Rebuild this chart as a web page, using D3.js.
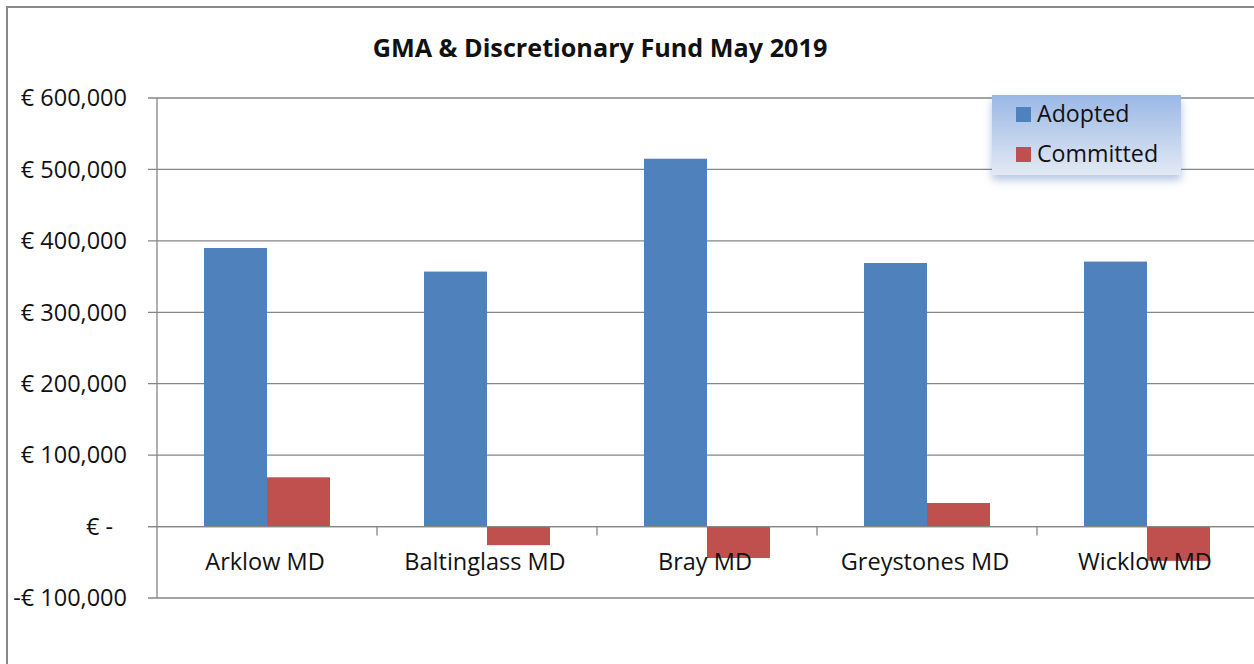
<!DOCTYPE html>
<html lang="en">
<head>
  <meta charset="UTF-8">
  <title>GMA & Discretionary Fund May 2019</title>
  <style>
    body { margin: 0; background: #fff; }
    svg { display: block; font-family: "Open Sans", "Noto Sans", sans-serif; }
    .grid line { stroke: #868686; stroke-width: 1.3; }
  </style>
</head>
<body>
  <div id="chart"></div>
  <script src="https://cdn.jsdelivr.net/npm/d3@7"></script>
  <script>
    var categories = ['Arklow MD', 'Baltinglass MD', 'Bray MD', 'Greystones MD', 'Wicklow MD'];
    var seriesNames = ['Adopted', 'Committed'];
    var adopted = [390000, 357000, 515000, 369000, 371000];
    var committed = [69000, -26000, -44000, 33000, -48000];
    var yTicks = [-100000, 0, 100000, 200000, 300000, 400000, 500000, 600000];
    var colors = ['#4f81bd', '#c0504d'];

    var W = 1254, H = 664;
    var svg = d3.select('#chart').append('svg').attr('width', W).attr('height', H);

    // outer chart border (runs off the right/bottom of the picture)
    svg.append('rect')
      .attr('x', 7).attr('y', 7).attr('width', 1300).attr('height', 700)
      .attr('fill', 'none').attr('stroke', '#8a8a8a').attr('stroke-width', 2);

    var x = d3.scaleBand().domain(categories).range([157, 1257]).paddingInner(0).paddingOuter(0);
    var inner = d3.scaleBand().domain(seriesNames).range([47, 220 - 47]);
    var y = d3.scaleLinear().domain([-100000, 600000]).range([598, 98]);

    // gridlines
    svg.append('g').attr('class', 'grid')
      .selectAll('line').data(yTicks).enter().append('line')
      .attr('x1', 148).attr('x2', W + 10)
      .attr('y1', function (d) { return y(d); })
      .attr('y2', function (d) { return y(d); });

    // y axis line
    svg.append('line')
      .attr('x1', 157).attr('x2', 157).attr('y1', y(600000)).attr('y2', y(-100000))
      .attr('stroke', '#868686').attr('stroke-width', 1.3);

    function euro(d) {
      if (d === 0) return '€ -';
      var s = '€ ' + d3.format(',')(Math.abs(d));
      return d < 0 ? '-' + s : s;
    }

    svg.append('g').selectAll('text').data(yTicks).enter().append('text')
      .attr('x', function (d) { return d === 0 ? 113 : 127; })
      .attr('y', function (d) { return y(d); })
      .attr('dy', '0.35em')
      .attr('text-anchor', 'end')
      .style('font-size', '23.5px')
      .attr('fill', '#111')
      .text(euro);

    // bars
    var data = [];
    categories.forEach(function (c, i) {
      data.push({ cat: c, s: 'Adopted', v: adopted[i] });
      data.push({ cat: c, s: 'Committed', v: committed[i] });
    });
    svg.append('g').selectAll('rect').data(data).enter().append('rect')
      .attr('x', function (d) { return x(d.cat) + inner(d.s); })
      .attr('width', inner.bandwidth())
      .attr('y', function (d) { return y(Math.max(0, d.v)); })
      .attr('height', function (d) { return Math.abs(y(d.v) - y(0)); })
      .attr('fill', function (d) { return colors[seriesNames.indexOf(d.s)]; });

    // zero axis line + category ticks
    svg.append('line')
      .attr('x1', 148).attr('x2', W + 10).attr('y1', y(0)).attr('y2', y(0))
      .attr('stroke', '#868686').attr('stroke-width', 1.3);
    svg.append('g').selectAll('line').data(categories.slice(1)).enter().append('line')
      .attr('x1', function (d) { return x(d); }).attr('x2', function (d) { return x(d); })
      .attr('y1', y(0)).attr('y2', y(0) + 9)
      .attr('stroke', '#868686').attr('stroke-width', 1.3);

    // category labels
    svg.append('g').selectAll('text').data(categories).enter().append('text')
      .attr('x', function (d) { return x(d) + x.bandwidth() / 2 - 2; })
      .attr('y', y(0) + 43)
      .attr('text-anchor', 'middle')
      .style('font-size', '23.5px')
      .attr('fill', '#111')
      .text(function (d) { return d; });

    // title
    svg.append('text')
      .attr('x', 600).attr('y', 57)
      .attr('text-anchor', 'middle')
      .style('font-size', '25.2px').style('font-weight', 'bold')
      .attr('fill', '#111')
      .text('GMA & Discretionary Fund May 2019');

    // legend
    var defs = svg.append('defs');
    var grad = defs.append('linearGradient').attr('id', 'lg').attr('x1', 0).attr('y1', 0).attr('x2', 0).attr('y2', 1);
    grad.append('stop').attr('offset', '0%').attr('stop-color', '#9ab8e6');
    grad.append('stop').attr('offset', '100%').attr('stop-color', '#e3e9f4');
    var sh = defs.append('filter').attr('id', 'sh').attr('x', '-10%').attr('y', '-10%').attr('width', '130%').attr('height', '140%');
    sh.append('feDropShadow').attr('dx', 0).attr('dy', 5).attr('stdDeviation', 4)
      .attr('flood-color', '#5b7fc0').attr('flood-opacity', 0.45);

    var lg = svg.append('g').attr('transform', 'translate(992,95)');
    lg.append('rect').attr('width', 189).attr('height', 80).attr('fill', 'url(#lg)').attr('filter', 'url(#sh)');
    seriesNames.forEach(function (s, i) {
      var row = lg.append('g').attr('transform', 'translate(24,' + (19 + i * 40) + ')');
      row.append('rect').attr('x', 0).attr('y', -7).attr('width', 15).attr('height', 15).attr('fill', colors[i]);
      row.append('text').attr('x', 21).attr('y', 0).attr('dy', '0.35em')
        .style('font-size', '23.2px').attr('fill', '#111').text(s);
    });
  </script>
</body>
</html>
